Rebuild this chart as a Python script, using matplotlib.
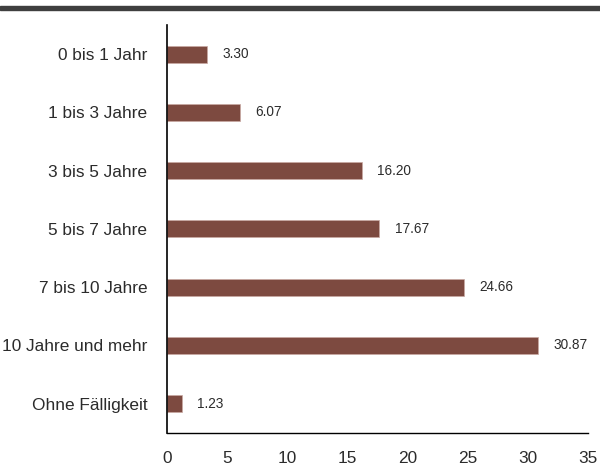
import matplotlib.pyplot as plt
from matplotlib import font_manager
from matplotlib.patches import Rectangle

# Daten
kategorien = ["0 bis 1 Jahr", "1 bis 3 Jahre", "3 bis 5 Jahre", "5 bis 7 Jahre",
              "7 bis 10 Jahre", "10 Jahre und mehr", "Ohne Fälligkeit"]
werte = [3.30, 6.07, 16.20, 17.67, 24.66, 30.87, 1.23]
x_ticks = [0, 5, 10, 15, 20, 25, 30, 35]

# schmale Schrift, falls vorhanden
try:
    font_manager.findfont('Liberation Sans Narrow', fallback_to_default=False)
    plt.rcParams['font.family'] = ['Liberation Sans Narrow', 'DejaVu Sans']
    gross, klein = 15, 11.5
except ValueError:
    plt.rcParams['font.family'] = ['Liberation Sans', 'DejaVu Sans']
    gross, klein = 12.4, 9.8

fig = plt.figure(figsize=(6, 4.7), dpi=100)
ax = fig.add_axes([0.278, 0.079, 0.702, 0.868])

# dunkler Balken oben
fig.patches.append(Rectangle((0, 0.978), 1, 0.009, transform=fig.transFigure,
                             color='#3f3f3f', zorder=5))

pos = list(range(len(kategorien)))
ax.barh(pos, werte, height=0.29, color='#7d4a40', edgecolor='#c9a9a2', linewidth=0.5)
for p, w in zip(pos, werte):
    ax.text(w + 1.3, p, f"{w:.2f}", va='center', ha='left', fontsize=klein, color='#2b2b2b')

ax.set_yticks(pos)
ax.set_yticklabels(kategorien, fontsize=gross, color='#2b2b2b')
ax.set_ylim(len(kategorien) - 0.5, -0.5)
ax.set_xlim(0, 35)
ax.set_xticks(x_ticks)
ax.set_xticklabels([str(t) for t in x_ticks], fontsize=gross, color='#2b2b2b')
ax.tick_params(axis='both', length=0)
ax.tick_params(axis='y', pad=14)
ax.tick_params(axis='x', pad=13)

ax.spines['top'].set_visible(False)
ax.spines['right'].set_visible(False)
ax.spines['left'].set_linewidth(1.2)
ax.spines['bottom'].set_linewidth(1.0)

fig.savefig('out.png', dpi=100)
